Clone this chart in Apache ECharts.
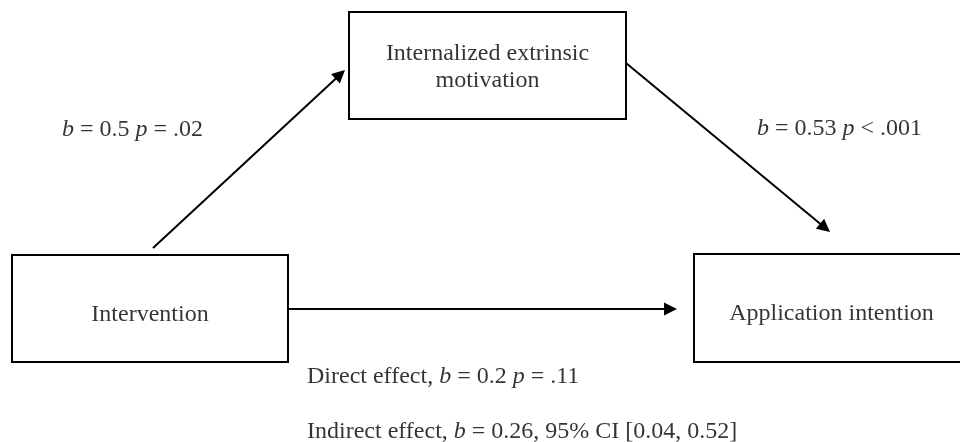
<!DOCTYPE html>
<html>
<head>
<meta charset="utf-8">
<script src="https://cdn.jsdelivr.net/npm/echarts@6/dist/echarts.min.js"></script>
<style>
  html, body { margin: 0; padding: 0; background: #fff; }
  #chart { width: 960px; height: 442px; }
</style>
</head>
<body>
<div id="chart"></div>
<script>
// ---- Content (text) ----
const boxNames = ['Internalized extrinsic\nmotivation', 'Intervention', 'Application intention'];
const pathLabels = ['{i|b} = 0.5 {i|p} = .02', '{i|b} = 0.53 {i|p} < .001'];
const effectLabels = ['Direct effect, {i|b} = 0.2 {i|p} = .11', 'Indirect effect, {i|b} = 0.26, 95% CI [0.04, 0.52]'];

// ---- Layout (diagram coordinates in axis units) ----
const boxRects = [[349, 12, 626, 119], [12, 255, 288, 362], [694, 254, 990, 362]];
const arrowPaths = [[[153, 248], [345, 70]], [[626, 63], [830, 232]], [[288, 309], [677, 309]]];
const pathLabelPos = [[62, 130], [757, 129]];
const effectLabelPos = [[307, 377], [307, 432]];
const boxLabelPos = [[487.5, 67], [150, 315], [831.5, 314]];
const headSize = 13;

const font = '"Liberation Serif", "Times New Roman", serif';
const rich = { i: { fontStyle: 'italic', fontFamily: font, fontSize: 24, color: '#000' } };

// shorten each arrow so the triangle tip lands on the end point
const arrowData = arrowPaths.map(function (c) {
  const dx = c[1][0] - c[0][0], dy = c[1][1] - c[0][1];
  const len = Math.sqrt(dx * dx + dy * dy);
  const k = (headSize / 2) / len;
  return { coords: [c[0], [c[1][0] - dx * k, c[1][1] - dy * k]] };
});

const chart = echarts.init(document.getElementById('chart'), null, { renderer: 'canvas' });

chart.setOption({
  animation: false,
  backgroundColor: '#fff',
  grid: { left: 0, right: 0, top: 0, bottom: 0 },
  xAxis: { type: 'value', min: 0, max: 960, show: false },
  yAxis: { type: 'value', min: 0, max: 442, inverse: true, show: false },
  series: [
    {
      type: 'custom',
      coordinateSystem: 'cartesian2d',
      data: boxRects.map((r, i) => ({ value: r, name: boxNames[i] })),
      renderItem: function (params, api) {
        const p0 = api.coord([api.value(0), api.value(1)]);
        const p1 = api.coord([api.value(2), api.value(3)]);
        return {
          type: 'rect',
          shape: { x: p0[0], y: p0[1], width: p1[0] - p0[0], height: p1[1] - p0[1] },
          style: { fill: '#fff', stroke: '#000', lineWidth: 2 }
        };
      },
      clip: false,
      silent: true,
      z: 1
    },
    {
      type: 'lines',
      coordinateSystem: 'cartesian2d',
      data: arrowData,
      symbol: ['none', 'triangle'],
      symbolSize: headSize,
      lineStyle: { color: '#000', width: 2, opacity: 1, curveness: 0 },
      silent: true,
      z: 2
    },
    {
      type: 'scatter',
      symbolSize: 0,
      data: boxLabelPos.map((p, i) => ({ value: p, label: { formatter: boxNames[i] } })),
      label: {
        show: true, position: 'inside', color: '#000', fontFamily: font, fontSize: 24, lineHeight: 27,
        align: 'center', verticalAlign: 'middle', textBorderWidth: 0
      },
      silent: true,
      z: 3
    },
    {
      type: 'scatter',
      symbolSize: 0,
      data: pathLabelPos.map((p, i) => ({ value: p, label: { formatter: pathLabels[i] } }))
        .concat(effectLabelPos.map((p, i) => ({ value: p, label: { formatter: effectLabels[i] } }))),
      label: {
        show: true, position: 'inside', color: '#000', fontFamily: font, fontSize: 24,
        align: 'left', verticalAlign: 'middle', rich: rich, textBorderWidth: 0
      },
      silent: true,
      z: 3
    }
  ]
});
</script>
</body>
</html>
